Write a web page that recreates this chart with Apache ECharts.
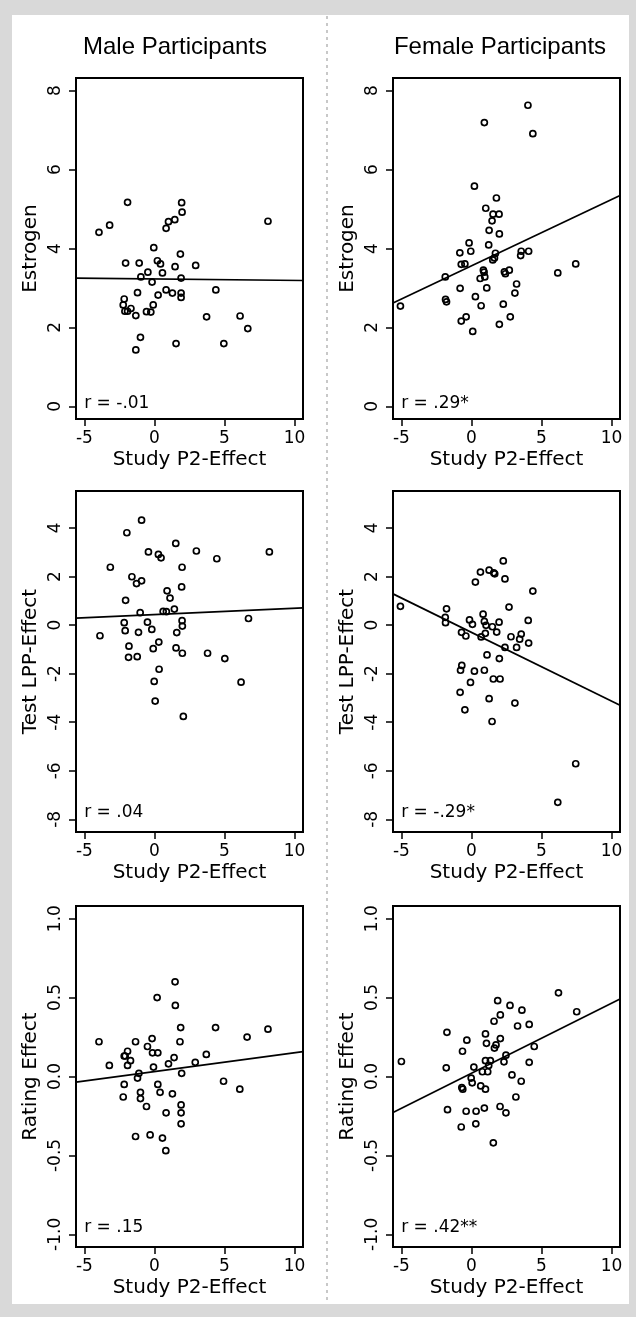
<!DOCTYPE html>
<html><head><meta charset="utf-8">
<script src="https://cdn.jsdelivr.net/npm/echarts@6/dist/echarts.min.js"></script>
<style>html,body{margin:0;padding:0;background:#d9d9d9;}#c{width:636px;height:1317px;}</style>
</head><body><div id="c"></div>
<script>
// ---- data ----
const columnTitles = ['Male Participants', 'Female Participants'];
const xAxisTitle = 'Study P2-Effect';
const rowTitles = ['Estrogen', 'Test LPP-Effect', 'Rating Effect'];
const xTicks = [-5, 0, 5, 10];
const estrogenTicks = [0, 2, 4, 6, 8];
const lppTicks = [-8, -6, -4, -2, 0, 2, 4];
const ratingTicks = [-1, -0.5, 0, 0.5, 1];

const maleEstrogenX = [-3.96,-3.2,-1.92,-2.06,-1.09,-0.05,0.21,0.43,-0.47,-0.97,-0.17,0.57,1.47,1.85,1.90,2.94,0.83,1.0,1.45,1.97,1.94,8.10,-1.21,-2.16,-2.23,-2.11,-1.92,-1.68,-1.33,-0.57,-0.26,-0.09,0.26,0.83,1.28,1.90,1.90,4.38,3.72,6.11,6.66,-1.0,-1.33,1.54,4.95];
const maleEstrogenY = [4.41,4.59,5.17,3.63,3.63,4.02,3.69,3.61,3.40,3.28,3.15,3.38,3.54,3.86,3.25,3.57,4.51,4.68,4.73,4.92,5.16,4.69,2.88,2.72,2.57,2.41,2.41,2.48,2.30,2.40,2.39,2.57,2.82,2.95,2.87,2.87,2.76,2.95,2.27,2.29,1.97,1.75,1.43,1.59,1.59];

const femaleEstrogenX = [-5.07,-1.87,-1.85,-1.78,-0.81,-0.83,-0.73,-0.47,-0.17,-0.05,-0.73,-0.38,0.09,0.28,0.69,0.21,0.92,4.03,4.38,1.02,1.78,1.54,1.97,1.47,1.26,1.99,1.23,1.71,1.52,1.64,0.85,0.90,0.62,0.95,1.09,2.35,2.42,2.70,2.27,1.99,2.77,3.10,3.22,3.51,3.55,4.08,6.16,7.44];
const femaleEstrogenY = [2.54,3.28,2.71,2.65,2.99,3.89,3.60,3.61,4.14,3.93,2.16,2.27,1.90,2.78,2.55,5.58,7.19,7.63,6.91,5.02,5.28,4.87,4.87,4.70,4.46,4.37,4.09,3.88,3.71,3.76,3.45,3.40,3.24,3.28,3.00,3.41,3.36,3.45,2.59,2.08,2.27,2.87,3.10,3.82,3.93,3.93,3.38,3.61];

const maleLppX = [-0.92,-1.97,1.52,-0.43,0.28,0.47,2.99,4.45,8.2,-3.15,1.97,-1.61,-1.28,-0.92,1.94,0.90,1.11,-2.06,-1.02,0.62,0.85,1.42,6.71,-2.16,-2.09,-1.14,-0.50,-0.19,1.97,1.99,1.59,-3.89,-1.82,-1.85,-1.23,0.31,-0.09,1.54,1.99,3.79,5.02,0.33,-0.02,6.18,0.05,2.06];
const maleLppY = [4.32,3.80,3.36,3.01,2.91,2.77,3.05,2.73,3.01,2.38,2.38,1.99,1.71,1.82,1.57,1.41,1.11,1.02,0.51,0.56,0.55,0.66,0.27,0.10,-0.23,-0.30,0.12,-0.18,0.18,-0.04,-0.31,-0.44,-0.87,-1.33,-1.30,-0.70,-0.97,-0.94,-1.16,-1.16,-1.38,-1.82,-2.32,-2.35,-3.13,-3.76];

const femaleLppX = [-5.07,-1.78,-1.87,-1.85,-0.14,0.07,-0.71,-0.40,0.28,0.64,1.26,1.59,1.66,2.27,2.39,4.38,2.68,0.83,0.92,1.04,1.49,1.97,1.80,0.99,0.69,2.82,3.55,3.44,4.05,4.08,2.39,3.22,1.11,1.99,-0.69,-0.78,0.21,0.92,-0.07,1.56,2.04,-0.81,1.26,3.10,-0.47,1.47,7.44,6.16];
const femaleLppY = [0.77,0.67,0.32,0.10,0.21,0.03,-0.30,-0.45,1.77,2.18,2.26,2.15,2.11,2.64,1.90,1.40,0.74,0.45,0.15,-0.01,-0.07,0.12,-0.29,-0.34,-0.49,-0.48,-0.37,-0.58,0.19,-0.74,-0.92,-0.92,-1.23,-1.38,-1.66,-1.86,-1.90,-1.86,-2.36,-2.22,-2.22,-2.77,-3.03,-3.21,-3.49,-3.97,-5.71,-7.30];

const maleRatingX = [1.47,0.19,1.49,1.87,4.36,8.10,6.61,-3.96,-1.35,-0.17,1.82,-0.50,-1.92,-2.16,-2.09,-1.71,-1.92,-3.22,-0.14,0.24,-0.07,1.0,1.40,2.91,3.70,1.94,-1.11,-1.21,-2.16,0.24,4.93,-1.0,0.40,1.28,6.09,-2.23,-1.0,-0.57,1.90,0.83,1.90,1.90,-1.35,-0.31,0.57,0.81];
const maleRatingY = [0.60,0.50,0.45,0.31,0.31,0.30,0.25,0.22,0.22,0.24,0.22,0.19,0.16,0.13,0.13,0.10,0.07,0.07,0.15,0.15,0.06,0.08,0.12,0.09,0.14,0.02,0.02,-0.01,-0.05,-0.05,-0.03,-0.10,-0.10,-0.11,-0.08,-0.13,-0.14,-0.19,-0.18,-0.23,-0.23,-0.30,-0.38,-0.37,-0.39,-0.47];

const femaleRatingX = [-5.0,6.21,7.51,1.87,2.75,3.60,2.06,1.61,3.29,4.12,-1.75,1.0,-0.33,1.07,2.06,1.75,1.64,-0.64,4.48,2.46,2.32,1.0,1.35,1.23,0.17,4.12,-1.80,0.78,1.16,2.89,-0.02,0.05,3.55,-0.69,-0.62,0.66,1.0,3.17,-1.71,-0.38,0.33,0.92,2.04,2.46,-0.73,0.31,1.56];
const femaleRatingY = [0.095,0.53,0.41,0.48,0.45,0.42,0.39,0.35,0.32,0.33,0.28,0.27,0.23,0.21,0.24,0.20,0.18,0.16,0.19,0.135,0.093,0.10,0.10,0.07,0.06,0.09,0.055,0.03,0.03,0.01,-0.01,-0.04,-0.03,-0.07,-0.08,-0.06,-0.08,-0.13,-0.21,-0.22,-0.22,-0.20,-0.19,-0.23,-0.32,-0.30,-0.42];

// regression lines (intercept, slope) per panel: row-major, male then female
const fitIntercept = [3.23, 3.56, 0.43, -0.30, 0.031, 0.020];
const fitSlope = [-0.0038, 0.168, 0.026, -0.283, 0.0119, 0.0444];
const rTexts = ['r = -.01', 'r = .29*', 'r = .04', 'r = -.29*', 'r = .15', 'r = .42**'];
const rTextY = [0.08, 0.08, -7.7, -7.7, -0.955, -0.955];
const rTextX = -5.05;

// ---- layout ----
const xRange = [-5.6, 10.6];
const yRanges = [[-0.32, 8.32], [-8.52, 5.52], [-1.08, 1.08]];
const yTickSets = [estrogenTicks, lppTicks, ratingTicks];
const panelsX = [[maleEstrogenX, femaleEstrogenX], [maleLppX, femaleLppX], [maleRatingX, femaleRatingX]];
const panelsY = [[maleEstrogenY, femaleEstrogenY], [maleLppY, femaleLppY], [maleRatingY, femaleRatingY]];
const colLeft = [76, 393];
const rowTop = [78, 491, 906];
const boxW = 227, boxH = 341;

const tickFont = 'DejaVu Sans';
const grids = [], xAxes = [], yAxes = [], series = [];
for (let r = 0; r < 3; r++) {
  for (let c = 0; c < 2; c++) {
    const i = r * 2 + c;
    grids.push({left: colLeft[c], top: rowTop[r], width: boxW, height: boxH, show: true,
      borderColor: '#000', borderWidth: 2, backgroundColor: '#fff', outerBoundsMode: 'none'});
    xAxes.push({type: 'value', gridIndex: i, min: xRange[0], max: xRange[1], position: 'bottom',
      name: xAxisTitle, nameLocation: 'middle', nameGap: 31,
      nameTextStyle: {fontFamily: tickFont, fontSize: 20, color: '#000'},
      axisLine: {show: false, onZero: false}, splitLine: {show: false},
      axisTick: {show: true, inside: false, length: 7, lineStyle: {color: '#000', width: 1.5}, customValues: xTicks},
      axisLabel: {margin: 11, fontFamily: tickFont, fontSize: 17, color: '#000', customValues: xTicks}
    });
    const yt = yTickSets[r];
    yAxes.push({type: 'value', gridIndex: i, min: yRanges[r][0], max: yRanges[r][1], position: 'left',
      name: rowTitles[r], nameLocation: 'middle', nameGap: 35, nameRotate: 90,
      nameTextStyle: {fontFamily: tickFont, fontSize: 20, color: '#000'},
      axisLine: {show: false, onZero: false}, splitLine: {show: false},
      axisTick: {show: true, inside: false, length: 7, lineStyle: {color: '#000', width: 1.5}, customValues: yt},
      axisLabel: {margin: 12, rotate: 90, fontFamily: tickFont, fontSize: 17, color: '#000', customValues: yt,
        formatter: v => (r === 2 ? Number(v).toFixed(1) : String(v))}
    });
    const xs = panelsX[r][c], ys = panelsY[r][c];
    series.push({type: 'scatter', xAxisIndex: i, yAxisIndex: i, symbol: 'circle', symbolSize: 6,
      itemStyle: {color: 'rgba(0,0,0,0)', borderColor: '#000', borderWidth: 1.7, opacity: 1},
      data: xs.map((x, k) => [x, ys[k]]), silent: true, z: 3});
    const a = fitIntercept[i], b = fitSlope[i];
    series.push({type: 'line', xAxisIndex: i, yAxisIndex: i, symbol: 'none', clip: true,
      lineStyle: {color: '#000', width: 1.7}, silent: true, z: 2,
      data: [[xRange[0], a + b * xRange[0]], [xRange[1], a + b * xRange[1]]]});
    series.push({type: 'scatter', xAxisIndex: i, yAxisIndex: i, symbolSize: 1,
      itemStyle: {color: 'rgba(0,0,0,0)', opacity: 1}, silent: true, z: 4,
      label: {show: true, position: 'right', distance: 0, formatter: rTexts[i], opacity: 1,
        fontFamily: tickFont, fontSize: 17, color: '#000'},
      data: [[rTextX, rTextY[i]]]});
  }
}

const chart = echarts.init(document.getElementById('c'), null, {renderer: 'canvas'});
chart.setOption({
  animation: false,
  backgroundColor: '#d9d9d9',
  graphic: [
    {type: 'rect', shape: {x: 12, y: 15, width: 617, height: 1289}, style: {fill: '#fff'}, z: -10},
    {type: 'line', shape: {x1: 327, y1: 16, x2: 327, y2: 1303}, style: {stroke: '#c8c8c8', lineWidth: 2, lineDash: [3, 4]}, z: -9},
    {type: 'text', x: 175, y: 47, style: {text: columnTitles[0], align: 'center', verticalAlign: 'middle', font: '24px "Liberation Sans"', fill: '#000'}},
    {type: 'text', x: 500, y: 47, style: {text: columnTitles[1], align: 'center', verticalAlign: 'middle', font: '24px "Liberation Sans"', fill: '#000'}}
  ],
  grid: grids, xAxis: xAxes, yAxis: yAxes, series: series
});
</script></body></html>
